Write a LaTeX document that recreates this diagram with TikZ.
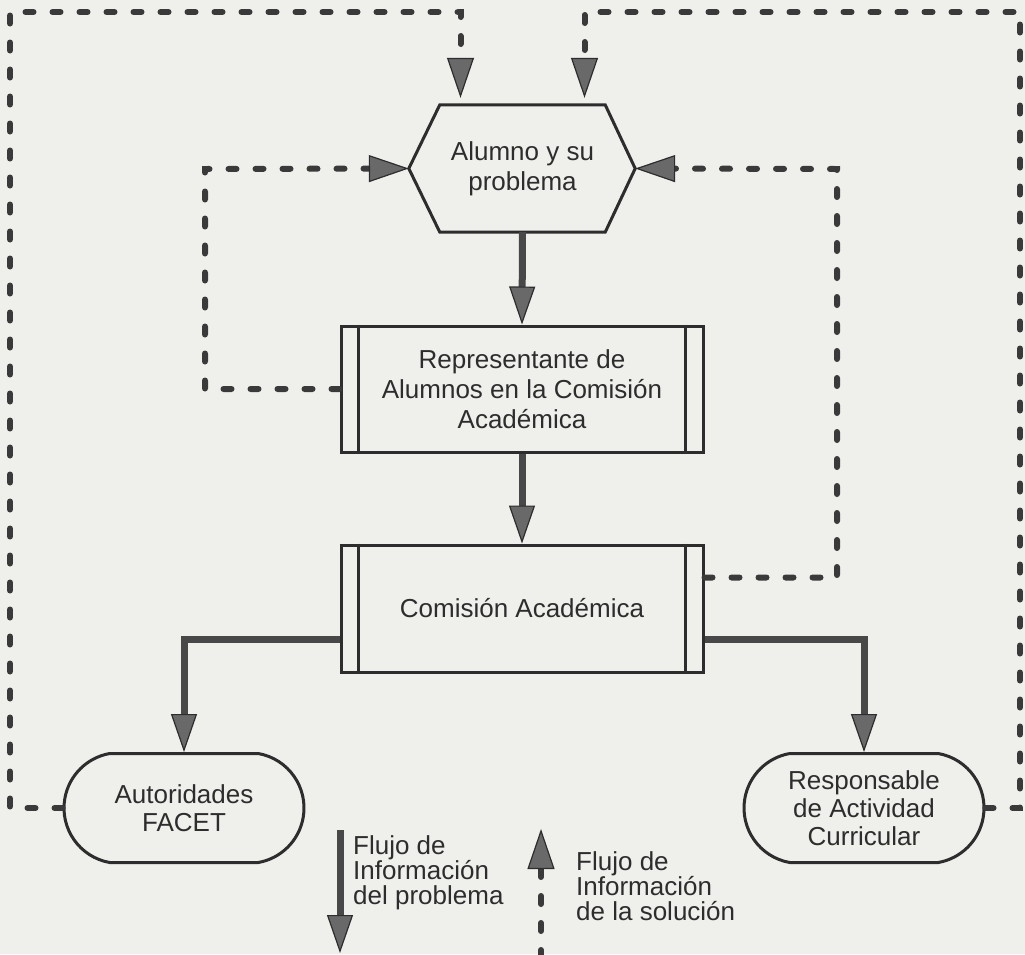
\documentclass[tikz,border=0pt]{standalone}
\usepackage{fontspec}
\setmainfont{Liberation Sans}
\usetikzlibrary{arrows.meta,shapes.misc}
\definecolor{paper}{RGB}{239,239,236}
\definecolor{ink}{RGB}{45,45,45}
\definecolor{flowcol}{RGB}{72,72,72}
\definecolor{dashcol}{RGB}{58,58,58}
\definecolor{headfill}{RGB}{105,105,105}
\begin{document}
\begin{tikzpicture}[x=1pt,y=-1pt,
  txt/.style={font=\fontsize{26}{30}\selectfont, text=ink, align=center},
  proc/.style={txt, draw=ink, line width=3pt, rectangle, minimum width=362pt, minimum height=126pt, inner sep=0pt},
  term/.style={txt, font=\fontsize{26}{28}\selectfont, draw=ink, line width=3pt, rounded rectangle, rounded rectangle arc length=160, minimum width=240pt, minimum height=109pt, inner sep=0pt},
  legtxt/.style={txt, font=\fontsize{26}{25}\selectfont, align=left, anchor=north west, inner sep=0pt},
  head/.style={},
  flowline/.style={draw=flowcol, line width=7pt, -{Triangle[length=38pt 0 0, width=26pt 0 0, line width=1.2pt 0 0, color=ink, fill=headfill]}},
  backline/.style={draw=dashcol, line width=6pt, line cap=round, dash pattern=on 8pt off 19pt, -{Triangle[length=40pt 0 0, width=27pt 0 0, line width=1.2pt 0 0, color=ink, fill=headfill]}}
]
\fill[paper] (0,0) rectangle (1025,954);
\useasboundingbox (0,0) rectangle (1025,954);

% nodes
\node[txt, minimum width=165pt, minimum height=127pt, inner sep=0pt] (alu) at (522.5,168.5) {Alumno y su\\problema};
\draw[ink, line width=3pt, line join=miter] (alu.north west) -- (alu.north east) -- ([xshift=30pt]alu.east) -- (alu.south east) -- (alu.south west) -- ([xshift=-31pt]alu.west) -- cycle;
\coordinate (aluL) at ([xshift=-31pt]alu.west);
\coordinate (aluR) at ([xshift=30pt]alu.east);

\node[proc] (rep) at (522,389) {Representante de\\Alumnos en la Comisión\\Académica};
\node[proc, minimum height=127pt] (com) at (522,608.5) {Comisión Académica};
\foreach \n in {rep,com}{
  \draw[ink, line width=3pt] ([xshift=19pt]\n.north west) -- ([xshift=19pt]\n.south west);
  \draw[ink, line width=3pt] ([xshift=-19pt]\n.north east) -- ([xshift=-19pt]\n.south east);
}
\node[term] (aut) at (184,808) {Autoridades\\FACET};
\node[term] (res) at (864,808) {Responsable\\de Actividad\\Curricular};

% corner coordinates
\coordinate (cL) at (205,169);
\coordinate (cR) at (837,169);
\coordinate (oTL) at (10,12);
\coordinate (oTR) at (1020,12);
\coordinate (tipL) at ([xshift=-62pt]alu.north);
\coordinate (tipR) at ([xshift=62pt]alu.north);

% problem flow (solid)
\draw[flowline] (alu.south) -- (rep.north);
\draw[flowline] (rep.south) -- (com.north);
\draw[flowline] ([yshift=-31pt]com.west) -| (aut.north);
\draw[flowline] ([yshift=-31pt]com.east) -| (res.north);

% solution flow (dashed)
\draw[backline] (rep.west) -| (cL) -- (aluL);
\draw[backline] ([yshift=31pt]com.east) -| (cR) -- (aluR);
\draw[backline, shorten >=7pt] (aut.west) -| (oTL) -| (tipL);
\draw[backline, shorten >=7pt] (res.east) -| (oTR) -| (tipR);

% legend
\coordinate (l1a) at (340,830);
\coordinate (l1b) at (340,953);
\draw[flowline] (l1a) -- (l1b);
\node[legtxt] (lt1) at (353,835) {Flujo de\\Información\\del problema};
\coordinate (l2a) at (541,958);
\coordinate (l2b) at (541,829);
\draw[backline] (l2a) -- (l2b);
\node[legtxt] (lt2) at (576,851) {Flujo de\\Información\\de la solución};
\end{tikzpicture}
\end{document}
